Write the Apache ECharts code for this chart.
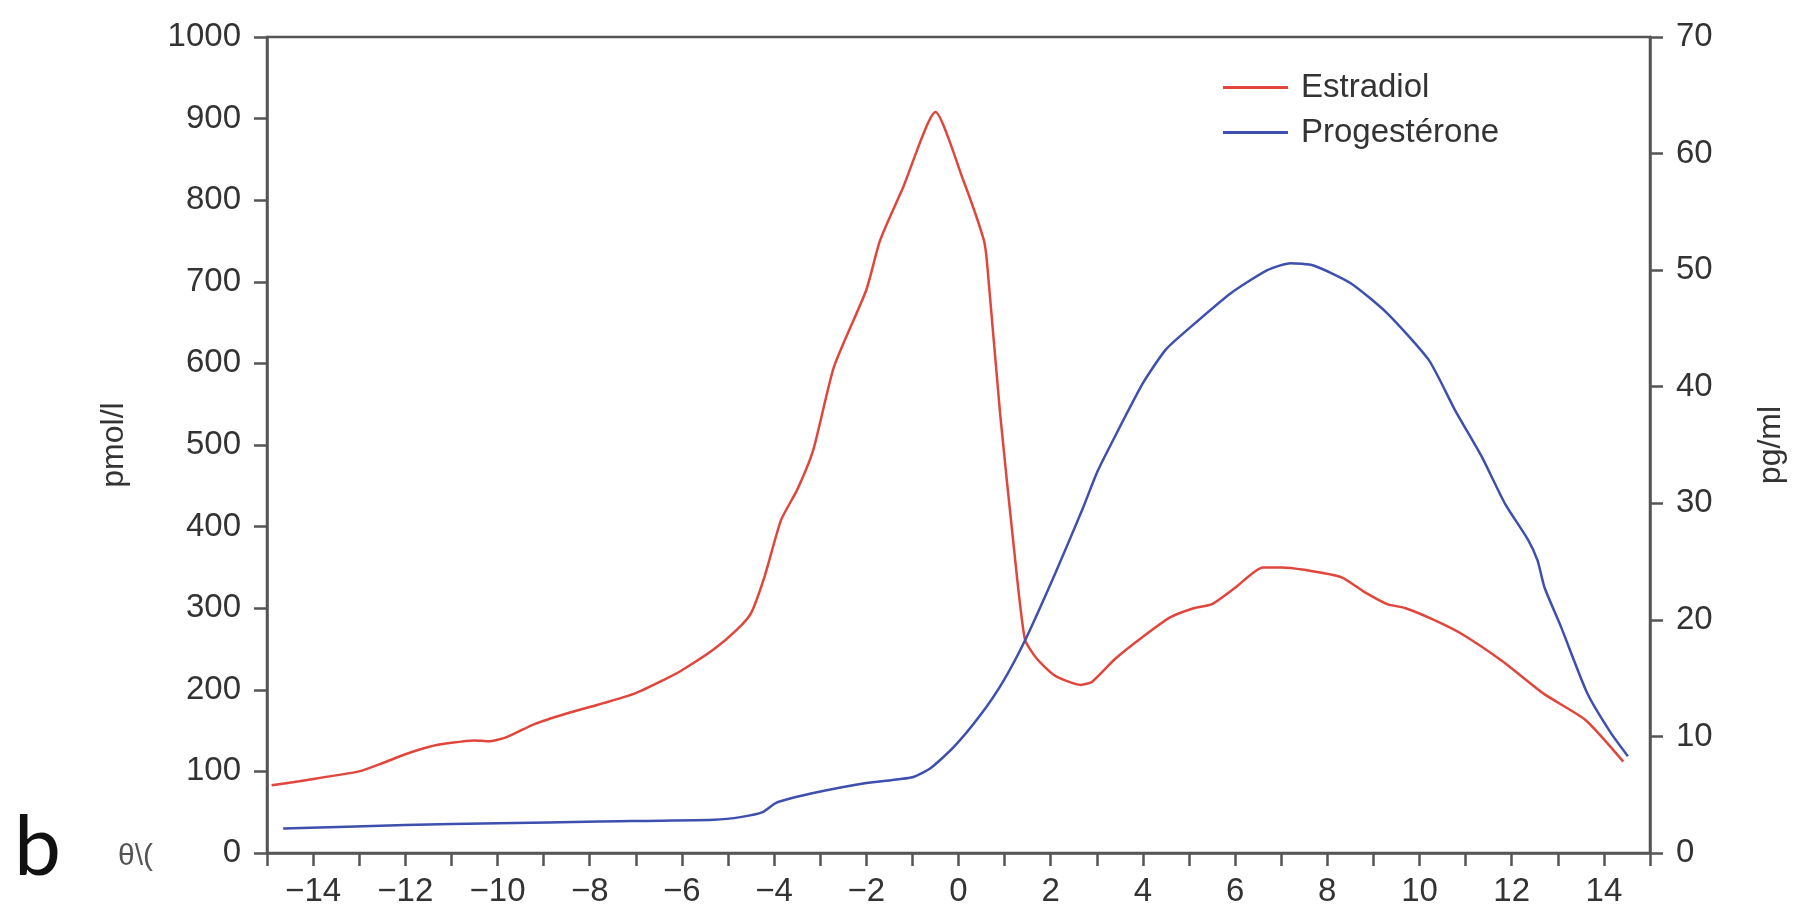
<!DOCTYPE html>
<html>
<head>
<meta charset="utf-8">
<title>Estradiol / Progestérone</title>
<script src="https://cdn.jsdelivr.net/npm/echarts@6/dist/echarts.min.js"></script>
</head>
<body style="margin:0;padding:0;background:#fff;">
<div id="main" style="width:1795px;height:913px;"></div>
<script type="text/javascript">
// jours du cycle (0 = pic LH) et valeurs
var estradiolDays = [-14.9, -14.3, -13.75, -13, -12.5, -12, -11.5, -11, -10.5, -10.2, -9.8, -9.2, -8.5, -7.8, -7, -6.4, -6, -5.3, -4.8, -4.5, -4.2, -3.85, -3.5, -3.15, -2.7, -2, -1.7, -1.2, -0.5, 0.1, 0.55, 0.62, 0.9, 1.2, 1.44, 1.7, 2.1, 2.65, 2.9, 3.4, 4, 4.6, 5.1, 5.5, 6, 6.6, 7, 7.5, 8.3, 8.8, 9.3, 9.7, 10.3, 10.9, 11.8, 12.7, 13.6, 14.42];
var estradiolValues = [83, 88, 93, 100, 110, 121, 130, 135, 138, 137, 142, 158, 171, 182, 196, 212, 224, 250, 274, 294, 340, 408, 445, 494, 596, 690, 751, 816, 908, 825, 751, 723, 540, 375, 262, 238, 217, 206, 210, 238, 265, 289, 300, 305, 325, 350, 350, 347, 338, 320, 305, 300, 286, 269, 235, 195, 163, 112];

var progDays = [-14.65, -12, -10, -7.8, -5.3, -4.7, -4.25, -4, -3.9, -3.2, -2, -1, -0.6, -0.1, 0.45, 0.95, 1.45, 2.1, 2.7, 3.0, 3.3, 4, 4.5, 5, 5.9, 6.7, 7.2, 7.7, 8.5, 9.3, 10.2, 10.77, 11.35, 11.85, 12.35, 12.56, 12.71, 13.07, 13.64, 14.15, 14.52];
var progValues = [2.1, 2.4, 2.55, 2.7, 2.85, 3.1, 3.5, 4.2, 4.4, 5.1, 6.0, 6.5, 7.3, 9.1, 11.7, 14.6, 18.3, 24.0, 29.6, 32.6, 35.0, 40.3, 43.2, 45.0, 48.0, 50.0, 50.6, 50.4, 48.9, 46.3, 42.3, 38.0, 34.0, 30.0, 26.9, 25.1, 22.8, 19.4, 13.7, 10.3, 8.3];

var seriesNames = ['Estradiol', 'Progestérone'];
var unitLeft = 'pmol/l';
var unitRight = 'pg/ml';

function pairs(xs, ys) {
    var out = [];
    for (var i = 0; i < xs.length; i++) out.push([xs[i], ys[i]]);
    return out;
}

var axisGray = '#555';
var textGray = '#333';
var fontFam = '"Liberation Sans", Arial, Helvetica, sans-serif';

var myChart = echarts.init(document.getElementById('main'));

option = {
    backgroundColor: '#fff',
    animation: false,
    textStyle: { fontFamily: fontFam },
    grid: {
        left: 267, right: 139, top: 37, bottom: 60,
        show: true, borderColor: axisGray, borderWidth: 2.5
    },
    legend: {
        orient: 'vertical',
        left: 1218, top: 66,
        itemWidth: 65, itemHeight: 3, itemGap: 12,
        icon: 'rect',
        textStyle: { fontSize: 33, color: textGray, padding: [0, 0, 0, 8] },
        data: seriesNames
    },
    xAxis: {
        type: 'value', min: -15, max: 15, interval: 1,
        axisLine: { onZero: false, lineStyle: { color: axisGray, width: 2.5 } },
        axisTick: { length: 13, lineStyle: { color: axisGray, width: 2.5 } },
        splitLine: { show: false },
        axisLabel: {
            margin: 22, fontSize: 33, color: textGray,
            formatter: function (v) {
                if (Math.abs(v) % 2 !== 0) return '';
                return String(v).replace('-', '\u2212');
            }
        }
    },
    yAxis: [{
        type: 'value', min: 0, max: 1000, interval: 100, position: 'left',
        name: unitLeft, nameLocation: 'middle', nameGap: 137, nameRotate: 90,
        nameTextStyle: { fontSize: 32, color: textGray },
        axisLine: { show: true, onZero: false, lineStyle: { color: axisGray, width: 2.5 } },
        axisTick: { length: 13, lineStyle: { color: axisGray, width: 2.5 } },
        splitLine: { show: false },
        axisLabel: { margin: 26, fontSize: 33, color: textGray, formatter: function (v) { return String(v); } }
    }, {
        type: 'value', min: 0, max: 70, interval: 10, position: 'right',
        name: unitRight, nameLocation: 'middle', nameGap: 105, nameRotate: 90,
        nameTextStyle: { fontSize: 32, color: textGray },
        axisLine: { show: true, onZero: false, lineStyle: { color: axisGray, width: 2.5 } },
        axisTick: { length: 13, lineStyle: { color: axisGray, width: 2.5 } },
        splitLine: { show: false },
        axisLabel: { margin: 26, fontSize: 33, color: textGray, formatter: function (v) { return String(v); } }
    }],
    graphic: [
        { type: 'text', left: 14, top: 806, style: { text: 'b', fontSize: 84, fill: '#111', fontFamily: 'Lato, "Open Sans", sans-serif' } },
        { type: 'text', left: 118, top: 842, style: { text: 'θ\\(', fontSize: 30, fill: '#555', fontFamily: fontFam } }
    ],
    series: [{
        name: seriesNames[0], type: 'line', yAxisIndex: 0,
        symbol: 'none', smooth: 0.2,
        lineStyle: { color: '#e0463b', width: 2.5 },
        itemStyle: { color: '#e0463b' },
        data: pairs(estradiolDays, estradiolValues)
    }, {
        name: seriesNames[1], type: 'line', yAxisIndex: 1,
        symbol: 'none', smooth: 0.2,
        lineStyle: { color: '#3f4fae', width: 2.5 },
        itemStyle: { color: '#3f4fae' },
        data: pairs(progDays, progValues)
    }]
};
myChart.setOption(option);
</script>
</body>
</html>
